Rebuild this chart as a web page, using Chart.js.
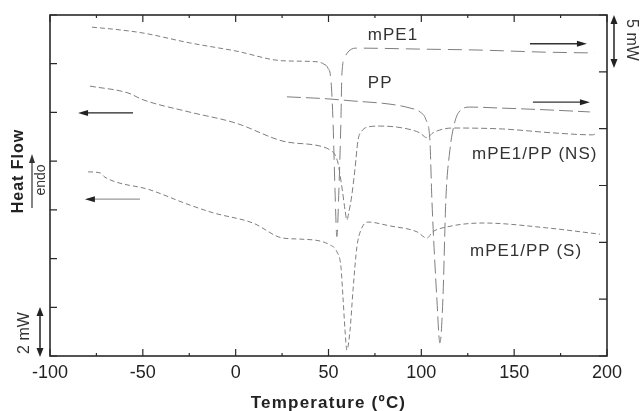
<!DOCTYPE html>
<html>
<head>
<meta charset="utf-8">
<style>
  html, body { margin: 0; padding: 0; background: #fff; }
  #wrap { width: 640px; height: 411px; }
</style>
<script src="https://cdn.jsdelivr.net/npm/chart.js@4.4.1/dist/chart.umd.min.js"></script>
</head>
<body>
<div id="wrap"><canvas id="dsc" width="640" height="411"></canvas></div>
<script>
// temperatures in ºC, heat flow in arbitrary offset units (1 left tick = 1 unit)
const mpeTemp = [-77.4, -66.1, -49.9, -25.1, 0.2, 25.5, 43.8, 47.6, 49.7, 51.3, 52.4, 53.5, 54.5, 55.6, 56.7, 57.2, 58.9, 61.6, 65.3, 99.2, 131.6, 163.9, 193.5];
const mpeFlow = [6.75, 6.71, 6.63, 6.43, 6.26, 6.06, 6.04, 5.99, 5.91, 5.67, 4.85, 3.41, 2.45, 3.41, 4.85, 5.77, 6.14, 6.28, 6.32, 6.30, 6.28, 6.24, 6.22];

const ppTemp = [27.6, 49.2, 61.6, 83.1, 93.9, 99.3, 102.5, 104.6, 105.7, 108.4, 110.0, 111.6, 113.2, 115.4, 117.6, 120.3, 126.2, 142.3, 169.3, 190.8];
const ppFlow = [5.32, 5.28, 5.24, 5.17, 5.09, 5.01, 4.85, 4.43, 3.20, 1.15, 0.27, 1.15, 3.20, 4.23, 4.74, 5.01, 5.11, 5.09, 5.05, 5.01];

const nsTemp = [-78.5, -58.0, -49.9, -25.1, 0.2, 25.5, 45.4, 50.8, 53.5, 55.1, 57.2, 58.9, 59.9, 61.0, 62.6, 64.2, 65.9, 68.0, 71.2, 77.7, 90.1, 99.2, 103.0, 106.2, 117.0, 143.9, 170.9, 192.4, 194.6];
const nsFlow = [5.54, 5.40, 5.26, 5.01, 4.78, 4.41, 4.31, 4.23, 4.13, 3.96, 3.47, 3.00, 2.79, 2.96, 3.31, 3.82, 4.43, 4.62, 4.70, 4.72, 4.68, 4.58, 4.48, 4.58, 4.68, 4.66, 4.58, 4.54, 4.58];

const sTemp = [-79.5, -73.1, -70.4, -46.1, -26.2, -12.2, 9.3, 25.5, 34.6, 50.8, 54.5, 56.7, 57.8, 58.9, 59.9, 61.6, 63.2, 65.3, 67.5, 71.2, 83.1, 97.6, 103.0, 106.2, 113.8, 133.2, 167.6, 196.2];
const sFlow = [3.78, 3.76, 3.67, 3.41, 3.12, 2.94, 2.73, 2.42, 2.40, 2.28, 2.14, 1.83, 1.21, 0.53, 0.12, 0.53, 1.35, 2.24, 2.59, 2.75, 2.67, 2.55, 2.42, 2.55, 2.65, 2.73, 2.63, 2.50];

const xTickLabels = [-100, -50, 0, 50, 100, 150, 200];

// curve labels [text, temperature of left edge, heat flow]
const curveLabels = [
  ["mPE1", 71.2, 6.59],
  ["PP", 71.2, 5.60],
  ["mPE1/PP (NS)", 127.3, 4.13],
  ["mPE1/PP (S)", 126.2, 2.14],
];

// direction arrows [from temp, to temp, heat flow, line colour]
const arrows = [
  [158.5, 189.2, 6.41, "#333"],
  [160.1, 190.8, 5.21, "#333"],
  [-55.3, -84.9, 4.99, "#222"],
  [-51.5, -81.2, 3.22, "#999"],
];

const toPoints = (xs, ys) => xs.map((x, i) => ({ x, y: ys[i] }));

const curveColor = "#7e7e7e";

function arrowHead(ctx, x, y, dir, len, half) {
  ctx.beginPath();
  ctx.moveTo(x, y);
  ctx.lineTo(x - dir * len, y - half);
  ctx.lineTo(x - dir * len, y + half);
  ctx.closePath();
  ctx.fill();
}

function vArrow(ctx, x, y1, y2, both) {
  ctx.beginPath();
  ctx.moveTo(x, y1 + 6);
  ctx.lineTo(x, y2 - (both ? 6 : 0));
  ctx.stroke();
  ctx.beginPath();
  ctx.moveTo(x, y1);
  ctx.lineTo(x - 3.5, y1 + 9);
  ctx.lineTo(x + 3.5, y1 + 9);
  ctx.closePath();
  ctx.fill();
  if (both) {
    ctx.beginPath();
    ctx.moveTo(x, y2);
    ctx.lineTo(x - 3.5, y2 - 9);
    ctx.lineTo(x + 3.5, y2 - 9);
    ctx.closePath();
    ctx.fill();
  }
}

function rotText(ctx, text, x, y, angle, font, spacing) {
  ctx.save();
  ctx.translate(x, y);
  ctx.rotate(angle);
  ctx.font = font;
  ctx.letterSpacing = spacing || "0px";
  ctx.textAlign = "center";
  ctx.textBaseline = "middle";
  ctx.fillText(text, 0, 0);
  ctx.restore();
}

const decorPlugin = {
  id: "decor",
  afterDraw(chart) {
    const { ctx, chartArea: a, scales } = chart;
    const x = scales.x, y = scales.y, y2 = scales.y2;
    ctx.save();

    // frame
    ctx.strokeStyle = "#2a2a2a";
    ctx.lineWidth = 1.6;
    ctx.strokeRect(a.left, a.top, a.right - a.left, a.bottom - a.top);

    // inward ticks
    ctx.lineWidth = 1.2;
    ctx.beginPath();
    x.ticks.forEach((t) => {
      const px = x.getPixelForValue(t.value);
      const len = t.value % 50 === 0 ? 7 : 3;
      ctx.moveTo(px, a.bottom);
      ctx.lineTo(px, a.bottom - len);
      ctx.moveTo(px, a.top);
      ctx.lineTo(px, a.top + len);
    });
    y.ticks.forEach((t) => {
      const py = y.getPixelForValue(t.value);
      ctx.moveTo(a.left, py);
      ctx.lineTo(a.left + 7, py);
    });
    y2.ticks.forEach((t) => {
      const py = y2.getPixelForValue(t.value);
      ctx.moveTo(a.right, py);
      ctx.lineTo(a.right - 8, py);
    });
    ctx.stroke();

    // direction arrows
    arrows.forEach(([t1, t2, v, col]) => {
      const px1 = x.getPixelForValue(t1);
      const px2 = x.getPixelForValue(t2);
      const py = y.getPixelForValue(v);
      const dir = px2 > px1 ? 1 : -1;
      ctx.strokeStyle = col;
      ctx.lineWidth = 1.3;
      ctx.beginPath();
      ctx.moveTo(px1, py);
      ctx.lineTo(px2 - dir * 6, py);
      ctx.stroke();
      ctx.fillStyle = "#222";
      arrowHead(ctx, px2, py, dir, 10, 3);
    });

    // curve labels
    ctx.fillStyle = "#333";
    ctx.font = "17px 'Liberation Sans', Arial, sans-serif";
    ctx.letterSpacing = "1px";
    ctx.textAlign = "left";
    ctx.textBaseline = "middle";
    curveLabels.forEach(([txt, t, v]) => {
      ctx.fillText(txt, x.getPixelForValue(t), y.getPixelForValue(v));
    });
    ctx.letterSpacing = "0px";

    // scale bars
    ctx.strokeStyle = "#222";
    ctx.fillStyle = "#222";
    ctx.lineWidth = 1.5;
    vArrow(ctx, a.right + 7, a.top, 68, true);
    vArrow(ctx, 40, 307, a.bottom + 1, true);
    ctx.fillStyle = "#333";
    rotText(ctx, "5 mW", 631, 40, Math.PI / 2, "16px 'Liberation Sans', Arial, sans-serif");
    rotText(ctx, "2 mW", 25, 333, -Math.PI / 2, "16px 'Liberation Sans', Arial, sans-serif");

    // y axis title with endo arrow
    ctx.fillStyle = "#222";
    rotText(ctx, "Heat Flow", 19, 171, -Math.PI / 2, "bold 16px 'Liberation Sans', Arial, sans-serif", "1px");
    ctx.fillStyle = "#333";
    rotText(ctx, "endo", 41, 180, -Math.PI / 2, "14px 'Liberation Sans', Arial, sans-serif");
    ctx.strokeStyle = "#333";
    ctx.lineWidth = 1.2;
    ctx.beginPath();
    ctx.moveTo(32, 208);
    ctx.lineTo(32, 160);
    ctx.stroke();
    ctx.beginPath();
    ctx.moveTo(32, 154);
    ctx.lineTo(29, 163);
    ctx.lineTo(35, 163);
    ctx.closePath();
    ctx.fill();

    // x axis title
    ctx.fillStyle = "#222";
    rotText(ctx, "Temperature (ºC)", (a.left + a.right) / 2, 403, 0, "bold 17px 'Liberation Sans', Arial, sans-serif", "1.2px");

    ctx.restore();
  },
};

function curve(label, xs, ys, dash, leftDash) {
  return {
    label,
    data: toPoints(xs, ys),
    borderColor: curveColor,
    borderWidth: 1,
    borderDash: dash,
    pointRadius: 0,
    fill: false,
    cubicInterpolationMode: "monotone",
    segment: leftDash
      ? { borderDash: (c) => (c.p0.parsed.x < 45 ? leftDash : dash) }
      : undefined,
  };
}

new Chart(document.getElementById("dsc"), {
  type: "line",
  data: {
    datasets: [
      curve("mPE1", mpeTemp, mpeFlow, [14, 7], [5, 3]),
      curve("PP", ppTemp, ppFlow, [14, 5]),
      curve("mPE1/PP (NS)", nsTemp, nsFlow, [6, 3]),
      curve("mPE1/PP (S)", sTemp, sFlow, [5, 3]),
    ],
  },
  options: {
    responsive: false,
    devicePixelRatio: 1,
    animation: false,
    layout: { padding: { top: 15, right: 0, bottom: 0, left: 0 } },
    plugins: {
      legend: { display: false },
      tooltip: { enabled: false },
    },
    scales: {
      x: {
        type: "linear",
        min: -100,
        max: 200,
        ticks: {
          stepSize: 25,
          autoSkip: false,
          maxRotation: 0,
          padding: 6,
          color: "#222",
          font: { size: 18, family: "'Liberation Sans', Arial, sans-serif" },
          callback: (v) => (xTickLabels.includes(v) ? String(v) : ""),
        },
        grid: { display: false, drawTicks: false },
        border: { display: false },
        afterFit: (s) => { s.height = 55; },
      },
      y: {
        min: 0,
        max: 7,
        ticks: { stepSize: 1, display: false },
        grid: { display: false, drawTicks: false },
        border: { display: false },
        afterFit: (s) => { s.width = 50; },
      },
      y2: {
        position: "right",
        min: 0,
        max: 6,
        ticks: { stepSize: 1, display: false },
        grid: { display: false, drawTicks: false },
        border: { display: false },
        afterFit: (s) => { s.width = 33; },
      },
    },
  },
  plugins: [decorPlugin],
});
</script>
</body>
</html>
